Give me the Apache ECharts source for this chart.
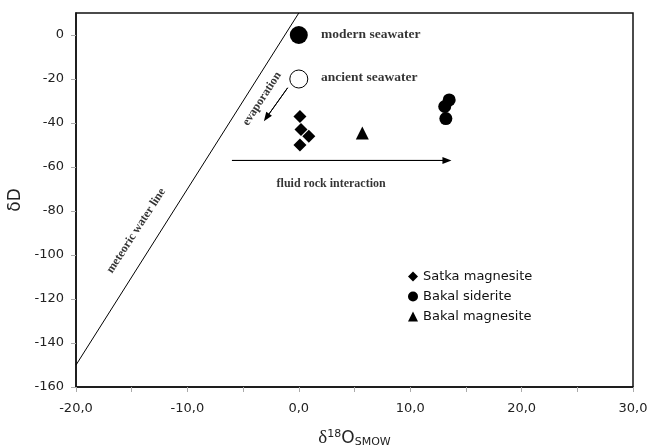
<!DOCTYPE html>
<html><head><meta charset="utf-8">
<script src="https://cdn.jsdelivr.net/npm/echarts@6/dist/echarts.min.js"></script>
<style>html,body{margin:0;padding:0;background:#fff}#c{width:650px;height:446px}</style>
</head><body><div id="c"></div>
<script>
// Data (δ18O, δD)
const modernSeawater = [[0, 0]];
const ancientSeawater = [[0, -20]];
const satkaMagnesite = [[0.1, -37], [0.2, -43], [0.9, -46], [0.1, -50]];
const bakalSiderite = [[13.5, -29.5], [13.1, -32.5], [13.2, -38]];
const bakalMagnesite = [[5.7, -44.5]];
const meteoricLine = [[-20, -150], [0, 10]];
const evaporationArrow = [[-1.0, -24], [-2.9, -37.5]];
const fluidArrow = [[-6, -57], [13.3, -57]];
const yTicks = [-160, -140, -120, -100, -80, -60, -40, -20, 0];
const annotations = [
  {value: [2.0, 0], text: 'modern seawater', align: 'left', rotate: 0, size: 13.5},
  {value: [2.0, -19.5], text: 'ancient seawater', align: 'left', rotate: 0, size: 13.5},
  {value: [2.9, -67.5], text: 'fluid rock interaction', align: 'center', rotate: 0, size: 12},
  {value: [-3.3, -29], text: 'evaporation', align: 'center', rotate: 57, size: 12},
  {value: [-14.6, -89], text: 'meteoric water line', align: 'center', rotate: 57, size: 12}
];

const chart = echarts.init(document.getElementById('c'), null, {renderer: 'canvas'});
const tickFont = {fontFamily: 'DejaVu Sans', fontSize: 13, color: '#222'};
function arrowLine(pts) {
  return {
    type: 'line', data: pts, symbol: 'none', silent: true,
    lineStyle: {color: '#000', width: 1}, z: 3,
    markLine: {
      silent: true, symbol: ['none', 'triangle'], symbolSize: [7, 9],
      itemStyle: {color: '#000'},
      lineStyle: {color: '#000', width: 1, type: 'solid'}, label: {show: false},
      data: [[{coord: pts[0]}, {coord: pts[1]}]]
    }
  };
}
chart.setOption({
  animation: false,
  grid: {left: 76, right: 17, top: 13, bottom: 59, show: true, borderColor: '#111', borderWidth: 1.5, outerBoundsMode: 'none', containLabel: false},
  xAxis: {
    type: 'value', min: -20, max: 30, interval: 10,
    axisLine: {show: true, onZero: false, lineStyle: {color: '#111', width: 1.5}},
    axisTick: {show: true, length: 5, lineStyle: {color: '#aaa'}},
    minorTick: {show: true, splitNumber: 2, length: 5, lineStyle: {color: '#aaa'}},
    splitLine: {show: false},
    axisLabel: Object.assign({margin: 15, formatter: v => v.toFixed(1).replace('.', ',')}, tickFont),
    name: '{d|δ}{sup|18}{o|O}{sub|SMOW}', nameLocation: 'middle', nameGap: 42,
    nameTextStyle: {
      rich: {
        d: {fontFamily: 'Liberation Serif', fontSize: 19, color: '#222'},
        o: {fontFamily: 'DejaVu Sans', fontSize: 17, color: '#222'},
        sup: {fontFamily: 'DejaVu Sans', fontSize: 11, color: '#222', verticalAlign: 'top', padding: [0, 0, 8, 0]},
        sub: {fontFamily: 'DejaVu Sans', fontSize: 11, color: '#222', padding: [8, 0, 0, 0]}
      }
    }
  },
  yAxis: {
    type: 'value', min: -160, max: 10, interval: 20,
    axisLine: {show: true, onZero: false, lineStyle: {color: '#111', width: 1.5}},
    axisTick: {show: true, length: 5, lineStyle: {color: '#aaa'}, customValues: yTicks},
    splitLine: {show: false},
    axisLabel: Object.assign({margin: 12, customValues: yTicks}, tickFont),
    name: 'δD', nameLocation: 'middle', nameGap: 47, nameRotate: 90,
    nameTextStyle: {fontFamily: 'DejaVu Sans', fontSize: 17, color: '#222'}
  },
  legend: {
    data: ['Satka magnesite', 'Bakal siderite', 'Bakal magnesite'],
    orient: 'vertical', left: 403, top: 265, itemWidth: 10, itemHeight: 10, itemGap: 7,
    textStyle: {fontFamily: 'DejaVu Sans', fontSize: 13, color: '#111'}
  },
  series: [
    {type: 'line', data: meteoricLine, symbol: 'none', silent: true, lineStyle: {color: '#000', width: 1}, clip: true},
    arrowLine(evaporationArrow),
    arrowLine(fluidArrow),
    {name: 'modern seawater', type: 'scatter', data: modernSeawater, symbol: 'circle', symbolSize: 18, itemStyle: {color: '#000', opacity: 1}},
    {name: 'ancient seawater', type: 'scatter', data: ancientSeawater, symbol: 'circle', symbolSize: 18, itemStyle: {color: '#fff', borderColor: '#000', borderWidth: 1, opacity: 1}},
    {name: 'Satka magnesite', type: 'scatter', data: satkaMagnesite, symbol: 'diamond', symbolSize: [13, 13], itemStyle: {color: '#000', opacity: 1}},
    {name: 'Bakal siderite', type: 'scatter', data: bakalSiderite, symbol: 'circle', symbolSize: 13, itemStyle: {color: '#000', opacity: 1}},
    {name: 'Bakal magnesite', type: 'scatter', data: bakalMagnesite, symbol: 'triangle', symbolSize: 13, itemStyle: {color: '#000', opacity: 1}},
    {
      type: 'scatter', symbolSize: 0, silent: true,
      data: annotations.map(a => ({
        value: a.value,
        label: {show: true, position: 'inside', formatter: a.text, align: a.align, verticalAlign: 'middle', rotate: a.rotate,
          fontFamily: 'Liberation Serif', fontWeight: 'bold', fontSize: a.size, color: '#000'}
      }))
    }
  ]
});
</script></body></html>
